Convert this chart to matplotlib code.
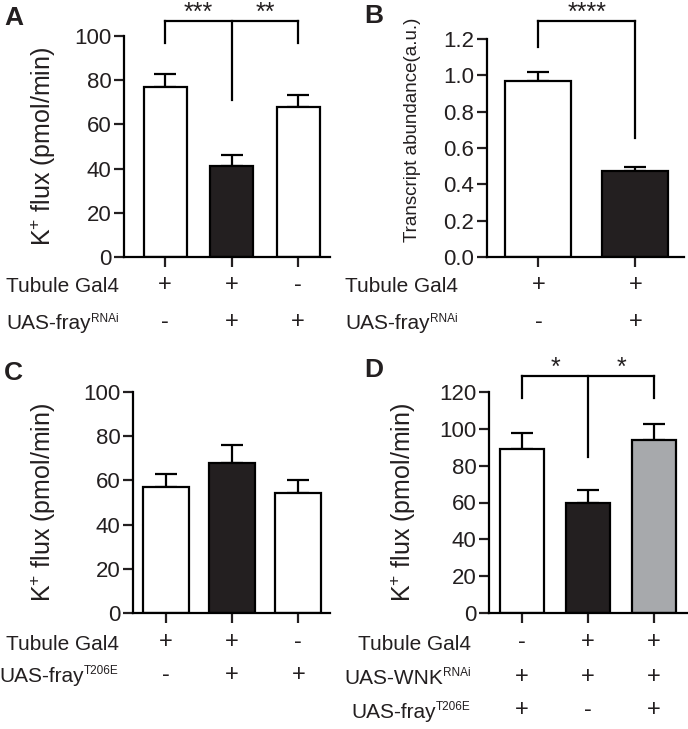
import matplotlib
matplotlib.use("Agg")
import matplotlib.pyplot as plt
import matplotlib.transforms as mtransforms

plt.rcParams['font.family'] = ['Liberation Sans', 'DejaVu Sans']
plt.rcParams['mathtext.default'] = 'regular'

# datos de los paneles
A_vals = [77, 41, 68]
A_err = [6, 5, 5.5]
A_colors = ['white', '#231f20', 'white']
A_rows = [['+', '+', '-'], ['-', '+', '+']]
A_rowlab = [('Tubule Gal4', ''), ('UAS-fray', 'RNAi')]

B_vals = [0.97, 0.475]
B_err = [0.05, 0.02]
B_colors = ['white', '#231f20']
B_rows = [['+', '+'], ['-', '+']]
B_rowlab = [('Tubule Gal4', ''), ('UAS-fray', 'RNAi')]

C_vals = [57, 68, 54.5]
C_err = [6, 8, 5.5]
C_colors = ['white', '#231f20', 'white']
C_rows = [['+', '+', '-'], ['-', '+', '+']]
C_rowlab = [('Tubule Gal4', ''), ('UAS-fray', 'T206E')]

D_vals = [89, 60, 94]
D_err = [9, 7, 8.5]
D_colors = ['white', '#231f20', '#a7a9ac']
D_rows = [['-', '+', '+'], ['+', '+', '+'], ['+', '-', '+']]
D_rowlab = [('Tubule Gal4', ''), ('UAS-WNK', 'RNAi'), ('UAS-fray', 'T206E')]

W, H = 688, 729
fig = plt.figure(figsize=(W / 100, H / 100), dpi=100)
rend = fig.canvas.get_renderer()
LW = 1.6
TXT = '#231f20'


def ejes(x0, x1, ytop, ybot):
    return fig.add_axes([x0 / W, 1 - ybot / H, (x1 - x0) / W, (ybot - ytop) / H])


def barras(ax, vals, err, colors, width, xlim, ylim, ticks, ylabel, ylx, ylsize=18, yly=0.5):
    x = list(range(len(vals)))
    ax.bar(x, vals, width=width, color=colors, edgecolor='black', linewidth=LW, zorder=2)
    ax.errorbar(x, vals, yerr=[[0] * len(vals), err], fmt='none', ecolor='black',
                elinewidth=LW, capsize=8, capthick=LW, zorder=1)
    ax.set_xlim(*xlim)
    ax.set_ylim(*ylim)
    ax.set_yticks(ticks)
    ax.set_xticks(x)
    ax.set_xticklabels([])
    ax.spines['top'].set_visible(False)
    ax.spines['right'].set_visible(False)
    ax.spines['left'].set_linewidth(LW)
    ax.spines['bottom'].set_linewidth(LW)
    ax.tick_params(width=LW, length=7, labelsize=16, colors=TXT, pad=2)
    ax.set_ylabel(ylabel, fontsize=ylsize, color=TXT)
    tr = mtransforms.blended_transform_factory(fig.transFigure, ax.transAxes)
    ax.yaxis.set_label_coords(ylx / W, yly, transform=tr)


def filas(ax, rows, labels, ys, xlab):
    tr = mtransforms.blended_transform_factory(ax.transData, fig.transFigure)
    for r, y in zip(rows, ys):
        for i, s in enumerate(r):
            ax.text(i, 1 - y / H, s, transform=tr, ha='center', va='center',
                    fontsize=17, color=TXT)
    # etiqueta con superindice pequeño
    for (base, sup), y in zip(labels, ys):
        xr = xlab
        ybase = y + 7.5  # linea base en pixeles
        if sup:
            t = fig.text(xr / W, 1 - (ybase - 8) / H, sup, ha='right', va='baseline',
                         fontsize=8.5, color=TXT)
            xr -= t.get_window_extent(rend).width + 0.5
        fig.text(xr / W, 1 - ybase / H, base, ha='right', va='baseline', fontsize=15, color=TXT)


def corchete(ax, x0, x1, ytop, drops, stars):
    kw = dict(color='black', lw=LW, clip_on=False)
    ax.plot([x0, x1], [ytop, ytop], **kw)
    for xx, yy in drops:
        ax.plot([xx, xx], [ytop, yy], **kw)
    for xx, s in stars:
        ax.annotate(s, (xx, ytop), xytext=(0, 0.5), textcoords='offset points',
                    ha='center', va='baseline', fontsize=18, color=TXT,
                    annotation_clip=False)


# Panel A
axA = ejes(124, 330, 36, 257)
barras(axA, A_vals, A_err, A_colors, 0.65, (-0.62, 2.48), (0, 100), range(0, 101, 20),
       'K$^{+}$ flux (pmol/min)', 58)
corchete(axA, 0, 2, 107, [(0, 97), (1, 71), (2, 97)], [(0.5, '***'), (1.5, '**')])
filas(axA, A_rows, A_rowlab, [285, 322], 119)
fig.text(4 / W, 1 - 18 / H, 'A', fontsize=19, fontweight='bold', va='center', color=TXT)

# Panel B
axB = ejes(487, 684, 39, 257)
barras(axB, B_vals, B_err, B_colors, 0.68, (-0.53, 1.5), (0, 1.2),
       [0, 0.2, 0.4, 0.6, 0.8, 1.0, 1.2], 'Transcript abundance(a.u.)', 421,
       ylsize=13.5, yly=0.585)
axB.set_yticklabels(['0.0', '0.2', '0.4', '0.6', '0.8', '1.0', '1.2'])
corchete(axB, 0, 1, 1.30, [(0, 1.155), (1, 0.655)], [(0.5, '****')])
filas(axB, B_rows, B_rowlab, [285, 322], 458)
fig.text(364 / W, 1 - 16 / H, 'B', fontsize=19, fontweight='bold', va='center', color=TXT)

# Panel C
axC = ejes(133, 330, 392, 613)
barras(axC, C_vals, C_err, C_colors, 0.7, (-0.5, 2.48), (0, 100), range(0, 101, 20),
       'K$^{+}$ flux (pmol/min)', 58)
filas(axC, C_rows, C_rowlab, [642, 675], 119)
fig.text(4 / W, 1 - 373 / H, 'C', fontsize=19, fontweight='bold', va='center', color=TXT)

# Panel D
axD = ejes(489, 687, 392, 613)
barras(axD, D_vals, D_err, D_colors, 0.67, (-0.5, 2.5), (0, 120), range(0, 121, 20),
       'K$^{+}$ flux (pmol/min)', 418)
corchete(axD, 0, 2, 128.7, [(0, 116.7), (1, 84.7), (2, 116.7)], [(0.5, '*'), (1.5, '*')])
filas(axD, D_rows, D_rowlab, [642, 677, 710], 471)
fig.text(364 / W, 1 - 370 / H, 'D', fontsize=19, fontweight='bold', va='center', color=TXT)

fig.savefig('out.png', dpi=100, facecolor='white')
